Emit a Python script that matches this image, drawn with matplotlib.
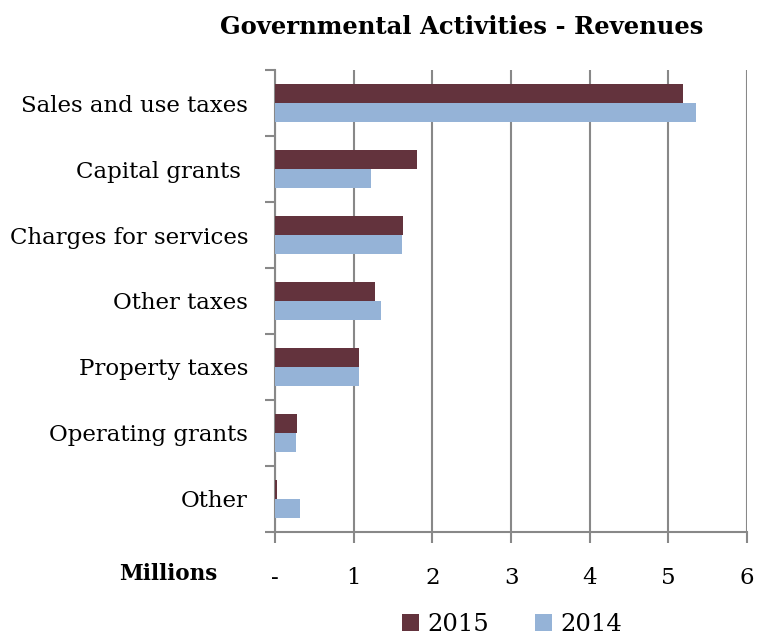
import matplotlib
matplotlib.use("Agg")
import matplotlib.pyplot as plt
import numpy as np

# Revenue sources, top to bottom as shown (values in millions)
categories = ["Sales and use taxes", "Capital grants ", "Charges for services",
              "Other taxes", "Property taxes", "Operating grants", "Other"]
rev_2015 = [5.19, 1.81, 1.63, 1.27, 1.07, 0.28, 0.03]
rev_2014 = [5.35, 1.22, 1.61, 1.35, 1.07, 0.26, 0.31]
x_ticks = [0, 1, 2, 3, 4, 5, 6]
x_labels = ["-", "1", "2", "3", "4", "5", "6"]

plt.rcParams["font.family"] = ["DejaVu Serif"]

fig = plt.figure(figsize=(7.6, 6.37), dpi=100)
ax = fig.add_axes([0.362, 0.165, 0.621, 0.725])

y = np.arange(len(categories))
h = 0.29
ax.barh(y - h / 2, rev_2015, height=h, color="#63333D", label="2015", zorder=3)
ax.barh(y + h / 2, rev_2014, height=h, color="#95B3D7", label="2014", zorder=3)

ax.set_xlim(0, 6)
ax.set_ylim(len(categories) - 0.5, -0.5)

ax.set_xticks(x_ticks)
ax.set_xticklabels(x_labels, fontsize=16.5)
ax.set_yticks(y)
ax.set_yticklabels(categories, fontsize=16.5)
ax.tick_params(axis="y", length=0, pad=19.5)
ax.set_yticks(np.arange(-0.5, len(categories), 1), minor=True)
ax.tick_params(axis="y", which="minor", length=7, width=1.5, color="#888888")
ax.tick_params(axis="x", length=8, width=1.5, color="#888888", pad=17)

ax.grid(axis="x", color="#888888", linewidth=1.5, zorder=0)
for side in ["top", "right"]:
    ax.spines[side].set_visible(False)
for side in ["left", "bottom"]:
    ax.spines[side].set_color("#888888")
    ax.spines[side].set_linewidth(1.5)

fig.text(0.608, 0.958, "Governmental Activities - Revenues", ha="center", va="center",
         fontsize=17.5, fontweight="bold")
fig.text(0.222, 0.099, "Millions", ha="center", va="center", fontsize=15.5, fontweight="bold")

fig.legend(loc="center", bbox_to_anchor=(0.674, 0.019), ncol=2, frameon=False,
           fontsize=17.5, handlelength=0.7, handleheight=0.7, handletextpad=0.35,
           columnspacing=1.9)

fig.savefig("out.png", dpi=100)
